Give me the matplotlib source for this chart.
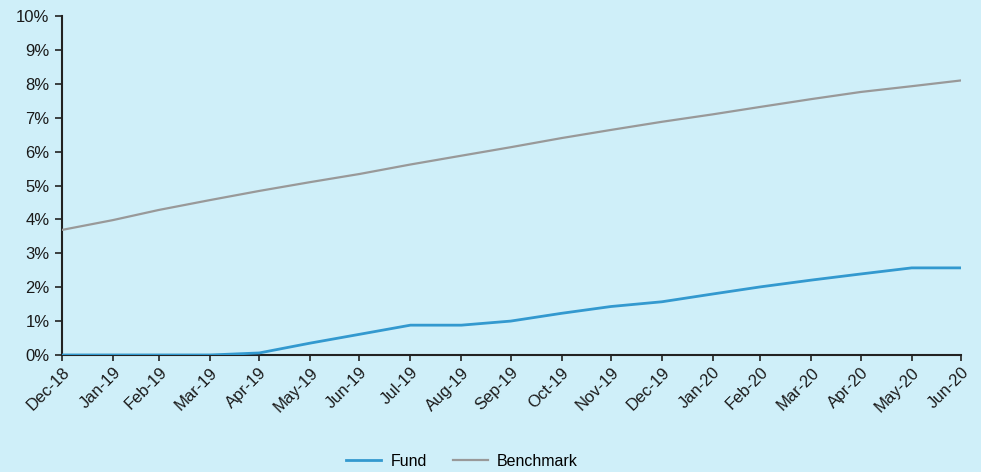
import pandas as pd
import matplotlib.pyplot as plt
import matplotlib.dates as mdates
from matplotlib.ticker import FuncFormatter

plt.rcParams["font.family"] = ["Liberation Sans", "DejaVu Sans"]

# month-end dates, Dec-18 .. Jun-20
months = pd.date_range("2018-12-31", "2020-06-30", freq="ME")

fund = [0.00, 0.00, 0.00, 0.00, 0.06, 0.35, 0.61, 0.88, 0.88, 1.00,
        1.23, 1.43, 1.57, 1.80, 2.01, 2.21, 2.39, 2.57, 2.57]
benchmark = [3.69, 3.98, 4.28, 4.57, 4.84, 5.10, 5.34, 5.62, 5.88, 6.13,
             6.40, 6.64, 6.88, 7.10, 7.32, 7.55, 7.76, 7.93, 8.10]

BG = "#cfeff9"
FUND_COLOR = "#3399cf"
BENCH_COLOR = "#999999"

fig = plt.figure(figsize=(9.81, 4.72), dpi=100, facecolor=BG)
ax = fig.add_axes([0.0632, 0.2479, 0.9164, 0.7181], facecolor=BG)

ax.plot(months, fund, color=FUND_COLOR, lw=2.0, label="Fund", zorder=3)
ax.plot(months, benchmark, color=BENCH_COLOR, lw=1.6, label="Benchmark", zorder=3)

ax.set_xlim(months[0], months[-1])
ax.set_ylim(0, 10)
ax.set_yticks(range(0, 11))
ax.yaxis.set_major_formatter(FuncFormatter(lambda v, p: f"{v:.0f}%"))

ax.set_xticks(months)
ax.xaxis.set_major_formatter(mdates.DateFormatter("%b-%y"))
for lbl in ax.get_xticklabels():
    lbl.set_rotation(45)
    lbl.set_ha("right")
    lbl.set_rotation_mode("anchor")

ax.tick_params(axis="both", labelsize=12, length=5, width=1.2,
               color="#222222", labelcolor="#1a1a1a")
ax.tick_params(axis="x", pad=3, length=4)
ax.tick_params(axis="y", pad=4)

for side in ["top", "right"]:
    ax.spines[side].set_visible(False)
for side in ["left", "bottom"]:
    ax.spines[side].set_linewidth(1.5)
    ax.spines[side].set_color("#222222")

fig.legend(loc="center", bbox_to_anchor=(462 / 981, 1 - 461 / 472),
           ncol=2, frameon=False, fontsize=11.5, handlelength=2.2,
           columnspacing=1.6, handletextpad=0.6)

plt.savefig("out.png", dpi=100, facecolor=BG)
